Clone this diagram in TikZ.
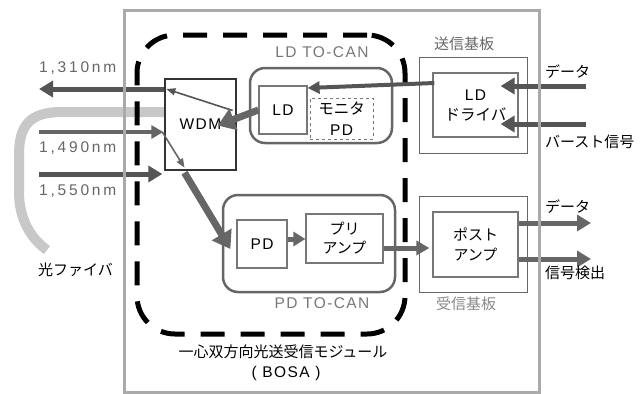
\documentclass[tikz,border=0pt]{standalone}
\usepackage{fontspec}
\setmainfont{Liberation Sans}[LetterSpace=9]
\newfontfamily\jp{Noto Sans CJK JP}
\newfontfamily\nmfont{Liberation Sans}[LetterSpace=18]
\usetikzlibrary{arrows.meta}
\definecolor{framegray}{HTML}{AAAAAA}
\definecolor{fibergray}{HTML}{C8C8C8}
\definecolor{dk}{HTML}{555555}
\definecolor{md}{HTML}{666666}
\definecolor{lt}{HTML}{777777}
\definecolor{lbl2}{HTML}{888888}
\tikzset{
  frame/.style={draw=framegray, line width=3pt},
  bosa/.style={draw=black, line width=5pt, dash pattern=on 24pt off 16pt, rounded corners=38pt},
  can/.style={draw=md, line width=2.5pt, rounded corners=15pt},
  board/.style={draw=md, line width=1pt},
  inbox/.style={draw=lt, line width=1.2pt, align=center, font=\fontsize{15.5}{20}\selectfont},
  wdmbox/.style={draw=black!80, line width=1.3pt, font=\fontsize{15.5}{20}\selectfont},
  dbox/.style={draw=lt, line width=1pt, dashed, align=center, font=\fontsize{15.5}{21}\selectfont},
  nmlbl/.style={text=md, font=\nmfont\fontsize{15.5}{16}\selectfont, anchor=west, inner sep=0pt},
  canlbl/.style={text=lt, font=\fontsize{15.5}{16}\selectfont, inner sep=0pt},
  jlbl/.style={font=\jp\fontsize{15}{18}\selectfont, inner sep=0pt},
  thick arrow/.style={draw=md, line width=7pt, -{Triangle[length=17pt,width=22pt]}},
  med arrow/.style={draw=dk, line width=5pt, -{Triangle[length=14pt,width=16pt]}},
  thin arrow/.style={draw=dk, line width=1.6pt, -{Triangle[length=9pt,width=7pt]}},
}
\begin{document}
\begin{tikzpicture}[x=1pt,y=-1pt]
\useasboundingbox (0,0) rectangle (641,394);
% fiber
\draw[fibergray, line width=10pt] (165,112) -- (62,112) .. controls (30,112) and (19,125) .. (19,155) -- (19,192) .. controls (19,218) and (30,238) .. (47,250);
% boxes
\node[wdmbox, minimum width=71pt, minimum height=91pt, inner sep=0pt] (wdm) at (200.5,124.5) {WDM};
\node[can, minimum width=142pt, minimum height=75pt] (ldcan) at (321,105.5) {};
\node[inbox, minimum width=48pt, minimum height=48pt, inner sep=0pt] (ld) at (283,110) {LD};
\node[dbox, minimum width=63pt, minimum height=41pt, inner sep=0pt] (mpd) at (341.5,118.5) {{\jp モニタ}\\PD};
\node[board, minimum width=108pt, minimum height=96pt] (txb) at (473,105) {};
\node[inbox, minimum width=85pt, minimum height=64pt, inner sep=0pt] (ldd) at (475.5,105) {LD\\{\jp ドライバ}};
\node[can, minimum width=172pt, minimum height=97pt] (pdcan) at (309,243.5) {};
\node[inbox, minimum width=50pt, minimum height=48pt, inner sep=0pt] (pd) at (262,244) {PD};
\node[inbox, minimum width=77pt, minimum height=49pt, inner sep=0pt, font=\jp\fontsize{15}{19}\selectfont] (pre) at (344.5,238.5) {プリ\\アンプ};
\node[board, minimum width=108pt, minimum height=96pt] (rxb) at (473,244) {};
\node[inbox, minimum width=85pt, minimum height=65pt, inner sep=0pt, font=\jp\fontsize{15}{20}\selectfont] (post) at (475.5,244.5) {ポスト\\アンプ};
% free-end coordinates
\coordinate (o1310) at (39,89);
\coordinate (i1490) at (39,132);
\coordinate (i1550) at (39,174);
\coordinate (dIn) at (586,86);
\coordinate (bIn) at (586,124);
\coordinate (dOut) at (591,223);
\coordinate (sOut) at (591,259);
% arrows
\draw[med arrow] (wdm.west |- o1310) -- (o1310);
\draw[thin arrow] ([xshift=-4pt,yshift=14pt]wdm.east) -- ([xshift=2pt]wdm.west |- o1310);
\draw[thick arrow] (ld.west) -- ([xshift=-19pt,yshift=-1pt]wdm.east);
\draw[draw=md, line width=4pt, -{Triangle[length=12pt,width=13pt]}] (i1490) -- ([xshift=-1pt]wdm.west |- i1490);
\draw[med arrow] (i1550) -- ([xshift=-2pt]wdm.west |- i1550);
\draw[draw=md, line width=1.6pt, -{Triangle[length=9pt,width=7pt]}] ([xshift=-2pt]wdm.west |- i1490) -- ([xshift=-16pt,yshift=3pt]wdm.south);
\draw[thick arrow] ([xshift=-16pt,yshift=-2pt]wdm.south) -- ([xshift=-6pt,yshift=-5pt]pd.west);
\draw[med arrow, line width=4pt, -{Triangle[length=12pt,width=12pt]}] ([xshift=2pt,yshift=22pt]ldd.west) -- ([yshift=22pt]ld.east);
\draw[draw=md, line width=5pt, -{Triangle[length=12pt,width=14pt]}] ([yshift=5pt]pd.east) -- ([yshift=-0.5pt]pre.west);
\draw[draw=md, line width=5pt, -{Triangle[length=13pt,width=14pt]}] ([yshift=-9.5pt]pre.east) -- ([xshift=-3pt,yshift=-3.5pt]post.west);
\draw[med arrow] (dIn) -- ([xshift=-18pt]ldd.east |- dIn);
\draw[med arrow] (bIn) -- ([xshift=-18pt]ldd.east |- bIn);
\draw[draw=md, line width=5pt, -{Triangle[length=14pt,width=16pt]}] (post.east |- dOut) -- (dOut);
\draw[draw=md, line width=5pt, -{Triangle[length=14pt,width=16pt]}] (post.east |- sOut) -- (sOut);
% outer frame (on top of arrows and fiber)
\node[frame, minimum width=415pt, minimum height=382pt, inner sep=0pt] (frame) at (331.5,201) {};
% BOSA dashed boundary
\node[bosa, minimum width=268pt, minimum height=299pt] (bosa) at (271,184.5) {};
% labels
\node[nmlbl] (l1310) at (39,68) {1,310nm};
\node[nmlbl] (l1490) at (39,148) {1,490nm};
\node[nmlbl] (l1550) at (39,191) {1,550nm};
\node[jlbl, anchor=west] (fib) at (38,270) {光ファイバ};
\node[canlbl] (ldcanl) at (322,52) {LD TO-CAN};
\node[canlbl] (pdcanl) at (322,303) {PD TO-CAN};
\node[jlbl, text=md] (txl) at (464,44) {送信基板};
\node[jlbl, text=lbl2] (rxl) at (466,304) {受信基板};
\node[jlbl, anchor=west] (dInl) at (545,72) {データ};
\node[jlbl, anchor=west] (bInl) at (545,142) {バースト信号};
\node[jlbl, anchor=west] (dOutl) at (545,207) {データ};
\node[jlbl, anchor=west] (sOutl) at (545,273) {信号検出};
\node[jlbl] (bosal1) at (283,352) {一心双方向光送受信モジュール};
\node[canlbl, text=black] (bosal2) at (286,373) {( BOSA )};
\end{tikzpicture}
\end{document}
